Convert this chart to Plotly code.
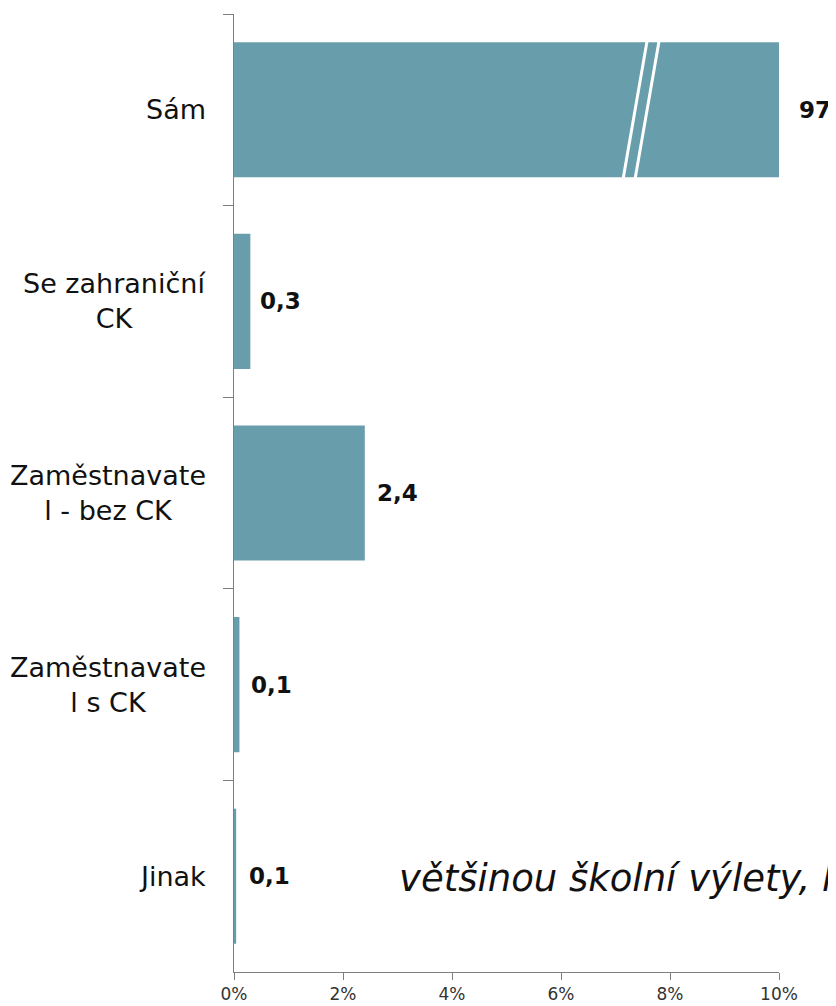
import plotly.graph_objects as go

categories = ["Sám", "Se zahraniční CK", "Zaměstnavatel - bez CK", "Zaměstnavatel s CK", "Jinak"]
category_labels = ["Sám", "Se zahraniční<br>CK", "Zaměstnavate<br>l - bez CK", "Zaměstnavate<br>l s CK", "Jinak"]
values = [97, 0.3, 2.4, 0.1, 0.04]
value_labels = ["97", "0,3", "2,4", "0,1", "0,1"]
x_ticks = [0, 2, 4, 6, 8, 10]
x_tick_labels = ["0%", "2%", "4%", "6%", "8%", "10%"]
note_text = "většinou školní výlety, lyžařské kurzy"

X_MAX = 10
BAR_COLOR = "#689EAC"
FONT = "DejaVu Sans"

# plot-area geometry in screenshot pixels
PLOT_L, PLOT_R = 234, 779


def px_to_paper(px):
    return (px - PLOT_L) / (PLOT_R - PLOT_L)


fig = go.Figure()
fig.add_trace(go.Bar(
    y=categories, x=values, orientation="h",
    marker=dict(color=BAR_COLOR, line=dict(width=0)),
    hoverinfo="skip",
))

# value labels
label_shift = [18, 8, 10, 10, 11]
for cat, v, lab, sh in zip(categories, values, value_labels, label_shift):
    fig.add_annotation(x=min(v, X_MAX), y=cat, xref="x", yref="y", text=f"<b>{lab}</b>",
                       showarrow=False, xanchor="left", xshift=sh,
                       font=dict(family=FONT, size=23, color="#111111"))

# category labels (centered multi-line block, right-aligned next to axis)
for cat, lab in zip(categories, category_labels):
    fig.add_annotation(x=px_to_paper(208), y=cat, xref="paper", yref="y", text=lab,
                       showarrow=False, xanchor="right", align="center",
                       font=dict(family=FONT, size=27, color="#111111"))

# break marks on the truncated bar
for x_bot, x_top in [(7.14, 7.58), (7.36, 7.80)]:
    fig.add_shape(type="line", xref="x", yref="y", x0=x_bot, x1=x_top, y0=0.36, y1=-0.36,
                  line=dict(color="white", width=3))

# italic note
fig.add_annotation(x=px_to_paper(397), y=categories[4], xref="paper", yref="y",
                   text=f"<i>{note_text}</i>", showarrow=False, xanchor="left", yshift=-2,
                   font=dict(family=FONT, size=37, color="#111111"))

fig.update_layout(
    width=828, height=998,
    margin=dict(l=226, r=57, t=6, b=34, autoexpand=False),
    paper_bgcolor="white", plot_bgcolor="white",
    bargap=0.295, showlegend=False,
    font=dict(family=FONT),
    xaxis=dict(range=[0, X_MAX], tickvals=x_ticks, ticktext=x_tick_labels,
               showgrid=False, zeroline=False, showline=True, linecolor="#7f7f7f", linewidth=1,
               ticks="outside", ticklen=7, tickcolor="#7f7f7f",
               tickfont=dict(family=FONT, size=17, color="#333333")),
    yaxis=dict(autorange="reversed", showticklabels=False, tickson="boundaries",
               showgrid=False, zeroline=False, showline=True, linecolor="#7f7f7f", linewidth=1,
               ticks="outside", ticklen=10, tickcolor="#7f7f7f"),
)

fig.write_html("out.html")
